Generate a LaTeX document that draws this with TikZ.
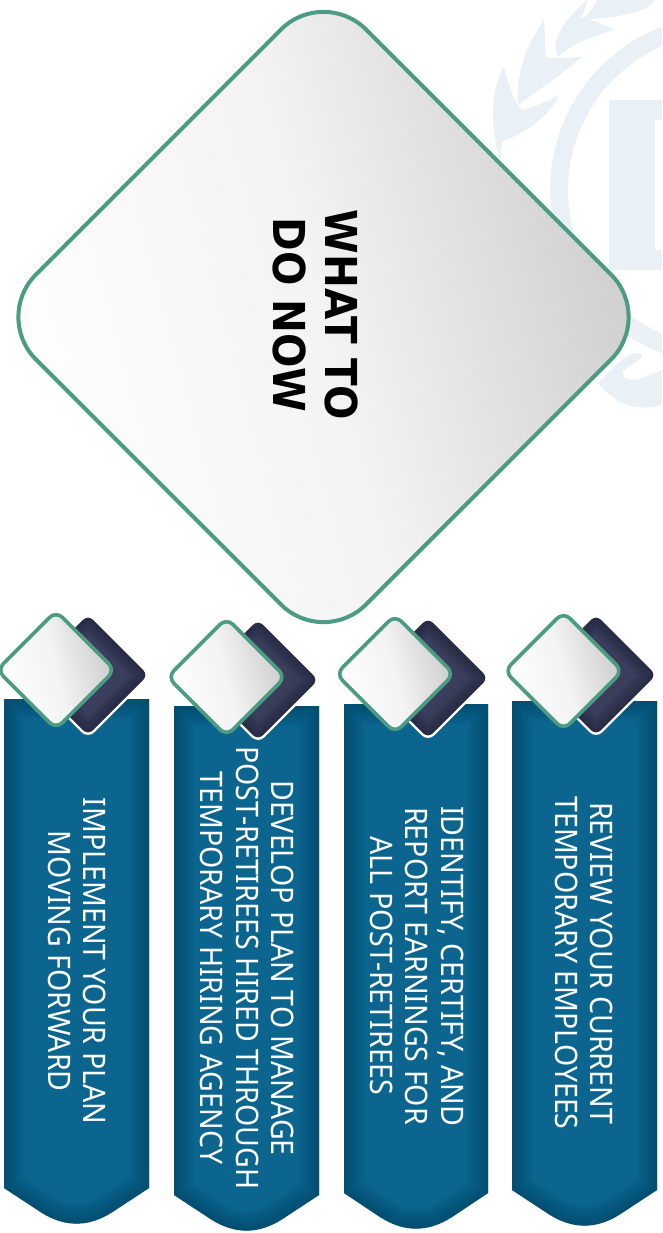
\documentclass[tikz,border=0pt]{standalone}
\usepackage{fontspec}
\setmainfont{Noto Sans}
\newfontfamily\panelfont[FakeStretch=0.92]{Noto Sans}
\newfontfamily\titlefont[FakeStretch=0.92]{DejaVu Sans}
\usetikzlibrary{calc}
\definecolor{wm}{HTML}{E9F0F6}
\definecolor{ring}{HTML}{4B9C82}
\definecolor{teal}{HTML}{0B658F}
\definecolor{tealdark}{HTML}{04405E}
\definecolor{navy}{HTML}{3A3E5C}
\definecolor{navydark}{HTML}{20233A}
\definecolor{silver}{HTML}{CCCCCC}
\definecolor{pale}{HTML}{F3F3F3}
\tikzset{
  wmark/.style={fill=wm,draw=none},
  bigdiamond/.style={draw=ring,line width=4pt,rounded corners=60pt,shade,bottom color=white,top color=silver,middle color=pale,shading angle=-75},
  smalldiamond/.style={draw=ring,line width=3.6pt,rounded corners=9pt,shade,bottom color=white,top color=silver,middle color=pale,shading angle=-75},
  backdiamond/.style={fill=navy,rounded corners=8pt},
  backedge/.style={draw=white,line width=2.4pt,rounded corners=8pt},
  paneltext/.style={text=white,rotate=-90,align=center,font=\panelfont\fontsize{31}{35.5}\selectfont,inner sep=0pt},
  titletext/.style={text=black,rotate=-90,align=center,font=\titlefont\fontsize{44}{52}\selectfont\bfseries,inner sep=0pt},
}
% panel outline: left, right, top, side bottom
\newcommand{\panelpath}[4]{(#1,#3) -- (#2,#3) -- (#2,#4) -- ({(#1+#2)/2+36},#4+24) .. controls ({(#1+#2)/2+12},#4+39.5) and ({(#1+#2)/2-12},#4+39.5) .. ({(#1+#2)/2-36},#4+24) -- (#1,#4) -- cycle}
\newcommand{\diamondpath}[3]{(#1-#3,#2) -- (#1,#2-#3) -- (#1+#3,#2) -- (#1,#2+#3) -- cycle}
\begin{document}
\begin{tikzpicture}[x=1pt,y=-1pt]
\useasboundingbox (0,0) rectangle (662,1233);
\fill[white] (0,0) rectangle (662,1233);
% watermark
\begin{scope}
\clip (0,0) rectangle (662,1233);
\fill[wm,even odd rule] (725,190) circle (175pt) (725,190) circle (157pt);
\fill[wmark] (609,100) rectangle (662,270);
\fill[white] (655,120) rectangle (662,250);
\fill[wmark] (500,160) .. controls (490,130) and (490,90) .. (504,67) .. controls (510,90) and (515,105) .. (522,110) .. controls (540,105) and (550,100) .. (559,95) .. controls (550,115) and (530,130) .. (502,142) -- (500,160) -- cycle;
\fill[wmark] (518,105) .. controls (515,70) and (530,40) .. (544,20) .. controls (545,35) and (545,50) .. (546,57) .. controls (565,60) and (570,57) .. (582,57) .. controls (565,72) and (545,85) .. (525,100) -- cycle;
\fill[wmark] (555,45) .. controls (560,25) and (575,10) .. (587,0) .. controls (585,10) and (582,15) .. (581,17) .. controls (600,22) and (610,28) .. (615,30) .. controls (590,37) and (575,42) .. (558,57) -- cycle;
\fill[wmark] (582,20) .. controls (590,12) and (595,5) .. (597,0) -- (655,0) .. controls (650,10) and (625,15) .. (612,17) -- cycle;
\fill[wmark] (598,383) .. controls (615,365) and (630,352) .. (635,353) .. controls (650,355) and (640,358) .. (622,372) .. controls (625,385) and (640,380) .. (662,370) -- (662,405) .. controls (640,412) and (615,405) .. cycle;
\end{scope}
% title diamond
\path[bigdiamond] \diamondpath{323.5}{317}{330};
\node[titletext] (title) at (315.5,315) {WHAT TO\\DO NOW};
% panels
\foreach \i/\xl/\xr/\yt/\ys/\wx/\wy/\dx/\dy/\tx/\ty/\txt in {
  1/4/149/699/1188/56/670/88/675/77/961/{IMPLEMENT YOUR PLAN\\MOVING FORWARD},
  2/174/319/706/1195/226.5/677/258/680/247.5/968/{DEVELOP PLAN TO MANAGE\\POST-RETIREES HIRED THROUGH\\TEMPORARY HIRING AGENCY},
  3/344/488/704/1193/395/674/428/678/417/966/{IDENTIFY, CERTIFY, AND\\REPORT EARNINGS FOR\\ALL POST-RETIREES},
  4/512/657/701/1190/563.5/671/596/675/584/963/{REVIEW YOUR CURRENT\\TEMPORARY EMPLOYEES}}
{
  \fill[teal] \panelpath{\xl}{\xr}{\yt}{\ys};
  \begin{scope}
    \clip \panelpath{\xl}{\xr}{\yt}{\ys};
    \foreach \w in {4,8,...,40}
      \draw[tealdark,line width=\w pt,opacity=0.07] \panelpath{\xl}{\xr}{\yt}{\ys};
  \end{scope}
  \path[backdiamond] \diamondpath{\dx}{\dy}{61};
  \begin{scope}
    \clip[rounded corners=8pt] \diamondpath{\dx}{\dy}{61};
    \foreach \w in {4,8,...,28}
      \draw[navydark,line width=\w pt,opacity=0.12,rounded corners=8pt] \diamondpath{\dx}{\dy}{61};
  \end{scope}
  \path[backedge] \diamondpath{\dx}{\dy}{62};
  \path[smalldiamond] \diamondpath{\wx}{\wy}{59};
  \node[paneltext] (label\i) at (\tx,\ty) {\txt};
}
\end{tikzpicture}
\end{document}
